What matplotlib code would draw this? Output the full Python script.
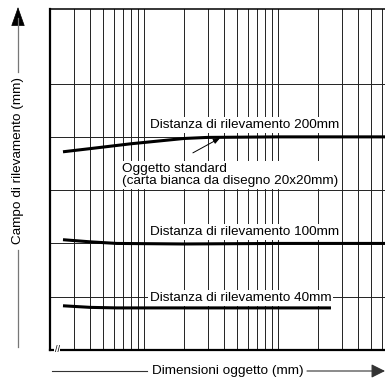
import matplotlib
matplotlib.use("Agg")
import matplotlib.pyplot as plt
from matplotlib.patches import FancyArrowPatch
import numpy as np

plt.rcParams['font.family'] = ['Liberation Sans', 'DejaVu Sans']

# Data
x_200 = [2.5, 4, 8, 20, 30, 100, 640]
y_200 = [3.72, 3.78, 3.87, 3.97, 3.99, 4.0, 4.0]
x_100 = [2.5, 4, 6.3, 20, 100, 640]
y_100 = [2.07, 2.03, 2.0, 1.99, 2.0, 2.0]
x_40 = [2.5, 4, 6.3, 20, 100, 250]
y_40 = [0.83, 0.80, 0.79, 0.79, 0.79, 0.79]

x_grid = [3, 4, 5, 6, 7, 8, 9, 10, 20, 30, 40, 50, 60, 70, 80, 90, 100,
          200, 300, 400, 500, 600]
y_grid = [1, 2, 3, 4, 5]

labels = ["Distanza di rilevamento 200mm",
          "Distanza di rilevamento 100mm",
          "Distanza di rilevamento 40mm"]
label_y = [4.22, 2.21, 0.98]
obj_label = "Oggetto standard\n(carta bianca da disegno 20x20mm)"
xlabel = "Dimensioni oggetto (mm)"
ylabel = "Campo di rilevamento (mm)"

W, H = 385, 380
fig = plt.figure(figsize=(W / 100, H / 100), dpi=100)
ax = fig.add_axes([50 / W, (H - 350) / H, (W - 50) / W, (350 - 9) / H])
ax.set_xscale('log')
ax.set_xlim(2, 632.5)
ax.set_ylim(0, 6.4)

for xv in x_grid:
    ax.axvline(xv, color='#222222', lw=0.7, zorder=1)
for yv in y_grid:
    ax.axhline(yv, color='#222222', lw=0.7, zorder=1)

lw = 2.2
ax.plot(x_200, y_200, color='black', lw=lw, zorder=3, solid_capstyle='butt')
ax.plot(x_100, y_100, color='black', lw=lw, zorder=3, solid_capstyle='butt')
ax.plot(x_40, y_40, color='black', lw=lw, zorder=3, solid_capstyle='butt')

fs = 9.7
bb = dict(facecolor='white', edgecolor='none', pad=1.5)
for t, yv in zip(labels, label_y):
    ax.text(11.1, yv, t, ha='left', va='center', fontsize=fs, bbox=bb, zorder=4)

ax.text(6.9, 3.29, obj_label, ha='left', va='center', fontsize=fs,
        linespacing=1.0, bbox=bb, zorder=4)
ax.annotate('', xy=(37.2, 3.98), xytext=(23.3, 3.70),
            arrowprops=dict(arrowstyle='-|>,head_length=0.5,head_width=0.2',
                            color='black', lw=0.7,
                            mutation_scale=8, shrinkA=0, shrinkB=0), zorder=5)

ax.set_xticks([])
ax.set_yticks([])
ax.xaxis.set_minor_locator(matplotlib.ticker.NullLocator())
ax.spines['right'].set_visible(False)
ax.spines['left'].set_linewidth(1.6)
ax.spines['bottom'].set_linewidth(1.6)
ax.spines['top'].set_linewidth(1.1)

# axis break mark
ax.text(0.021, 0.0, '//', transform=ax.transAxes, fontsize=6.5,
        ha='center', va='center', zorder=6,
        bbox=dict(facecolor='white', edgecolor='none', pad=0.2))

# x label with arrow line
yl = (H - 371) / H
fig.text(228 / W, yl, xlabel, ha='center', va='center', fontsize=fs)
fig.add_artist(plt.Line2D([52 / W, 147 / W], [yl, yl], color='#333333', lw=0.8))
fig.add_artist(FancyArrowPatch(
    (307 / W, yl), (385 / W, yl), transform=fig.transFigure,
    arrowstyle='-|>,head_length=0.6,head_width=0.3', mutation_scale=14,
    color='#333333', lw=0.8, shrinkA=0, shrinkB=0))

# y label with arrow line
xl = 18 / W
fig.text(xl, (H - 161) / H, ylabel, ha='center', va='center', fontsize=fs,
         rotation=90)
fig.add_artist(plt.Line2D([xl, xl], [(H - 250) / H, (H - 347) / H],
                          color='#777777', lw=0.9))
fig.add_artist(plt.Line2D([xl, xl], [(H - 72) / H, (H - 18) / H],
                          color='#777777', lw=0.9))
fig.add_artist(FancyArrowPatch(
    (xl, (H - 20) / H), (xl, (H - 7) / H), transform=fig.transFigure,
    arrowstyle='-|>,head_length=0.9,head_width=0.32', mutation_scale=14,
    color='black', lw=0.5, shrinkA=0, shrinkB=0))

fig.savefig('out.png', dpi=100)
